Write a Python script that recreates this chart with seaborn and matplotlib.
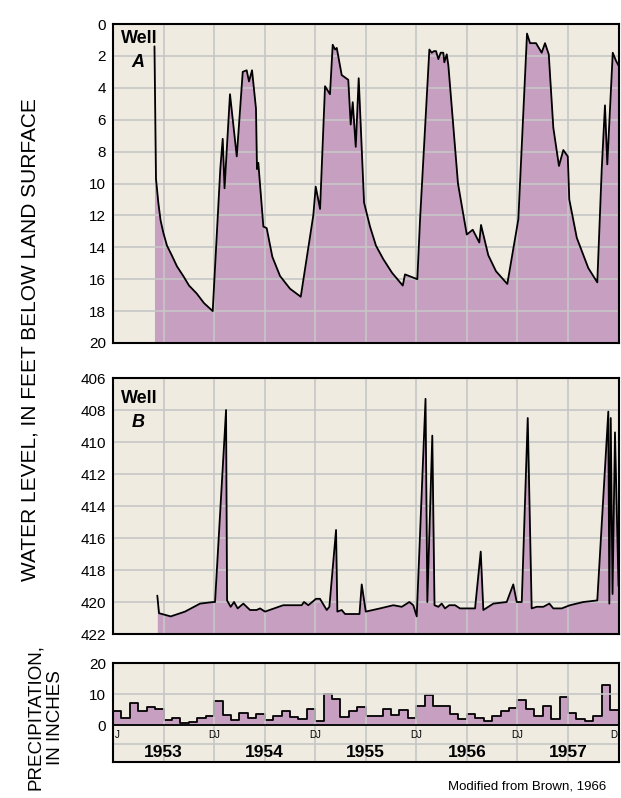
import matplotlib
matplotlib.use("Agg")
import matplotlib.pyplot as plt
import numpy as np
import pandas as pd
import seaborn as sns

# Well A: water level, feet below land surface (decimal years)
well_a_year = [1953.410, 1953.425, 1953.448, 1953.470, 1953.498, 1953.534, 1953.581,
               1953.633, 1953.695, 1953.752, 1953.828, 1953.900, 1953.986,
               1954.061, 1954.085, 1954.103, 1954.157, 1954.224, 1954.283, 1954.322,
               1954.345, 1954.375, 1954.414, 1954.424, 1954.437, 1954.487, 1954.520,
               1954.576, 1954.652, 1954.751, 1954.857, 1954.981,
               1955.005, 1955.048, 1955.097, 1955.146, 1955.173, 1955.196, 1955.213,
               1955.262, 1955.327, 1955.351, 1955.371, 1955.401, 1955.430, 1955.483,
               1955.542, 1955.601, 1955.674, 1955.760, 1955.866, 1955.888,
               1956.010, 1956.037, 1956.129, 1956.152, 1956.175, 1956.195, 1956.218,
               1956.241, 1956.267, 1956.277, 1956.301, 1956.317, 1956.412, 1956.499,
               1956.558, 1956.623, 1956.640, 1956.712, 1956.788, 1956.900,
               1957.009, 1957.095, 1957.125, 1957.184, 1957.240, 1957.273, 1957.310,
               1957.355, 1957.411, 1957.454, 1957.498, 1957.513, 1957.587, 1957.701,
               1957.790, 1957.834, 1957.866, 1957.889, 1957.943, 1957.975, 1958.000]
well_a_depth = [1.4, 9.7, 11.2, 12.3, 13.1, 13.9, 14.5,
                15.2, 15.8, 16.4, 16.9, 17.5, 18.0,
                9.1, 7.2, 10.3, 4.4, 8.3, 3.0, 2.9,
                3.6, 2.9, 5.3, 9.1, 8.7, 12.7, 12.8,
                14.6, 15.8, 16.6, 17.1, 12.0,
                10.2, 11.6, 3.9, 4.4, 1.3, 1.6, 1.5,
                3.2, 3.5, 6.3, 4.9, 7.7, 3.4, 11.2,
                12.7, 13.9, 14.75, 15.6, 16.4, 15.7,
                16.0, 12.25, 1.6, 1.8, 1.7, 1.7, 2.2,
                1.8, 1.8, 2.4, 1.9, 2.6, 10.0, 13.2,
                12.9, 13.7, 12.6, 14.5, 15.5, 16.3,
                12.25, 0.6, 1.2, 1.2, 1.8, 1.2, 1.9,
                6.5, 8.9, 7.9, 8.3, 11.0, 13.4, 15.3,
                16.2, 9.1, 5.1, 8.8, 1.8, 2.3, 2.6]

# Well B: water level, feet below land surface (decimal years)
well_b_year = [1953.438, 1953.455, 1953.571, 1953.712, 1953.861, 1953.992,
               1954.009, 1954.118, 1954.128, 1954.164, 1954.197, 1954.233, 1954.289,
               1954.355, 1954.421, 1954.454, 1954.503, 1954.684, 1954.866, 1954.889,
               1954.932, 1955.008, 1955.047, 1955.114, 1955.140, 1955.206, 1955.219,
               1955.262, 1955.295, 1955.438, 1955.460, 1955.500, 1955.641, 1955.773,
               1955.856, 1955.931, 1955.970, 1956.004, 1956.091, 1956.109, 1956.158,
               1956.180, 1956.218, 1956.251, 1956.284, 1956.326, 1956.383, 1956.432,
               1956.482, 1956.581, 1956.637, 1956.663, 1956.762, 1956.894, 1956.959,
               1956.993, 1957.043, 1957.102, 1957.141, 1957.191, 1957.256, 1957.316,
               1957.355, 1957.438, 1957.520, 1957.652, 1957.790, 1957.899, 1957.909,
               1957.923, 1957.941, 1957.965, 1958.000]
well_b_depth = [419.6, 420.7, 420.9, 420.6, 420.1, 420.0,
                420.0, 408.0, 419.9, 420.3, 420.0, 420.4, 420.1,
                420.5, 420.5, 420.4, 420.6, 420.2, 420.2, 420.0,
                420.2, 419.8, 419.8, 420.5, 420.3, 415.5, 420.6,
                420.5, 420.75, 420.75, 418.9, 420.6, 420.4, 420.2,
                420.3, 420.0, 420.2, 420.9, 407.3, 420.0, 409.6,
                420.2, 420.3, 420.1, 420.4, 420.2, 420.2, 420.4,
                420.4, 420.4, 416.85, 420.5, 420.1, 420.0, 418.9,
                420.0, 420.0, 408.5, 420.4, 420.3, 420.3, 420.1,
                420.4, 420.4, 420.2, 420.0, 419.9, 408.1, 420.1,
                408.5, 419.5, 409.4, 419.0]

# monthly precipitation, inches (Jan 1953 - Dec 1957)
precip_1953 = [4.6, 2.5, 7.3, 4.6, 6.0, 5.4, 1.6, 2.4, 0.8, 1.2, 2.4, 3.0]
precip_1954 = [7.8, 3.3, 1.8, 4.1, 2.5, 3.6, 1.6, 2.9, 4.5, 2.7, 2.0, 5.3]
precip_1955 = [1.4, 10.2, 8.4, 2.7, 4.7, 5.8, 3.0, 3.0, 5.2, 3.2, 5.0, 2.5]
precip_1956 = [6.2, 9.7, 6.2, 6.2, 3.5, 2.0, 3.5, 2.5, 1.5, 3.0, 4.5, 5.5]
precip_1957 = [8.1, 5.2, 3.0, 6.2, 2.0, 9.0, 4.0, 2.0, 1.5, 3.0, 13.0, 5.0]
precip_inches = precip_1953 + precip_1954 + precip_1955 + precip_1956 + precip_1957

years = [1953, 1954, 1955, 1956, 1957]
a_ticks = list(range(0, 21, 2))
b_ticks = list(range(406, 423, 2))
p_ticks = [0, 10, 20]

BG = "#EFEBE1"
FILL = "#C79FC1"
GRID = "#C6C6C6"

sns.set_style("white")
plt.rcParams["font.family"] = ["Liberation Sans", "DejaVu Sans"]
plt.rcParams["text.color"] = "black"
plt.rcParams["axes.labelcolor"] = "black"
plt.rcParams["xtick.color"] = "black"
plt.rcParams["ytick.color"] = "black"

fig = plt.figure(figsize=(6.21, 7.98), dpi=100)
ax_a = fig.add_axes([0.182, 0.5702, 0.814, 0.3997])
ax_b = fig.add_axes([0.182, 0.2055, 0.814, 0.3208])
ax_p = fig.add_axes([0.182, 0.0457, 0.814, 0.1231])

half_years = np.arange(1953.5, 1958.0, 0.5)

for ax in (ax_a, ax_b, ax_p):
    ax.set_facecolor(BG)
    ax.set_axisbelow("line")
    ax.set_xlim(1953, 1958)
    ax.set_xticks(half_years)
    ax.set_xticklabels([])
    ax.grid(True, color=GRID, lw=1.2)
    ax.tick_params(length=0, pad=5, labelsize=11, labelcolor="black")
    for s in ax.spines.values():
        s.set_color("black")
        s.set_linewidth(1.5)

# Well A
df_a = pd.DataFrame({"year": well_a_year, "depth": well_a_depth})
ax_a.fill_between(df_a["year"], df_a["depth"], 20, color=FILL, lw=0, zorder=1)
sns.lineplot(data=df_a, x="year", y="depth", color="black", linewidth=1.3,
             estimator=None, sort=False, ax=ax_a, zorder=3)
ax_a.set_ylim(20, 0)
ax_a.set_yticks(a_ticks)

# Well B
df_b = pd.DataFrame({"year": well_b_year, "depth": well_b_depth})
ax_b.fill_between(df_b["year"], df_b["depth"], 422, color=FILL, lw=0, zorder=1)
sns.lineplot(data=df_b, x="year", y="depth", color="black", linewidth=1.3,
             estimator=None, sort=False, ax=ax_b, zorder=3)
ax_b.set_ylim(422, 406)
ax_b.set_yticks(b_ticks)

# Precipitation, one bin per month
month_edges = [1953 + i / 12 for i in range(len(precip_inches) + 1)]
df_p = pd.DataFrame({"month": [e + 1 / 24 for e in month_edges[:-1]],
                     "precip": precip_inches})
sns.histplot(data=df_p, x="month", weights="precip", bins=month_edges,
             element="step", fill=True, color=FILL, alpha=1, edgecolor="black",
             linewidth=1.3, ax=ax_p, zorder=1)
ax_p.set_ylim(-11.7, 20)
ax_p.set_xlim(1953, 1958)
ax_p.set_yticks(p_ticks)
ax_p.axhline(0, color="black", lw=1.3, zorder=3)
ax_p.axhline(-5.9, color=GRID, lw=1.2, zorder=1.5)

ax_p.text(1953.02, -3.2, "J", fontsize=7, ha="left", va="center")
for y in years[1:]:
    ax_p.text(y, -3.2, "DJ", fontsize=7, ha="center", va="center")
ax_p.text(1957.985, -3.2, "D", fontsize=7, ha="right", va="center")
for y in years:
    ax_p.text(y + 0.5, -8.8, str(y), fontsize=12.5, fontweight="bold",
              ha="center", va="center")

for ax in (ax_a, ax_b, ax_p):
    ax.set_xlabel("")
    ax.set_ylabel("")

# well labels
ax_a.text(0.052, 0.942, "Well", transform=ax_a.transAxes, fontsize=13,
          fontweight="bold", ha="center", va="baseline")
ax_a.text(0.050, 0.866, "A", transform=ax_a.transAxes, fontsize=13,
          fontweight="bold", fontstyle="italic", ha="center", va="baseline")
ax_b.text(0.052, 0.902, "Well", transform=ax_b.transAxes, fontsize=13,
          fontweight="bold", ha="center", va="baseline")
ax_b.text(0.050, 0.809, "B", transform=ax_b.transAxes, fontsize=13,
          fontweight="bold", fontstyle="italic", ha="center", va="baseline")

fig.text(0.049, 0.574, "WATER LEVEL, IN FEET BELOW LAND SURFACE", rotation=90,
         fontsize=15, ha="center", va="center")
fig.text(0.073, 0.101, "PRECIPITATION,\nIN INCHES", rotation=90, fontsize=13.5,
         ha="center", va="center", multialignment="center", linespacing=1.25)
fig.text(0.977, 0.011, "Modified from Brown, 1966", fontsize=9.5,
         ha="right", va="baseline")

fig.savefig("out.png", dpi=100)
